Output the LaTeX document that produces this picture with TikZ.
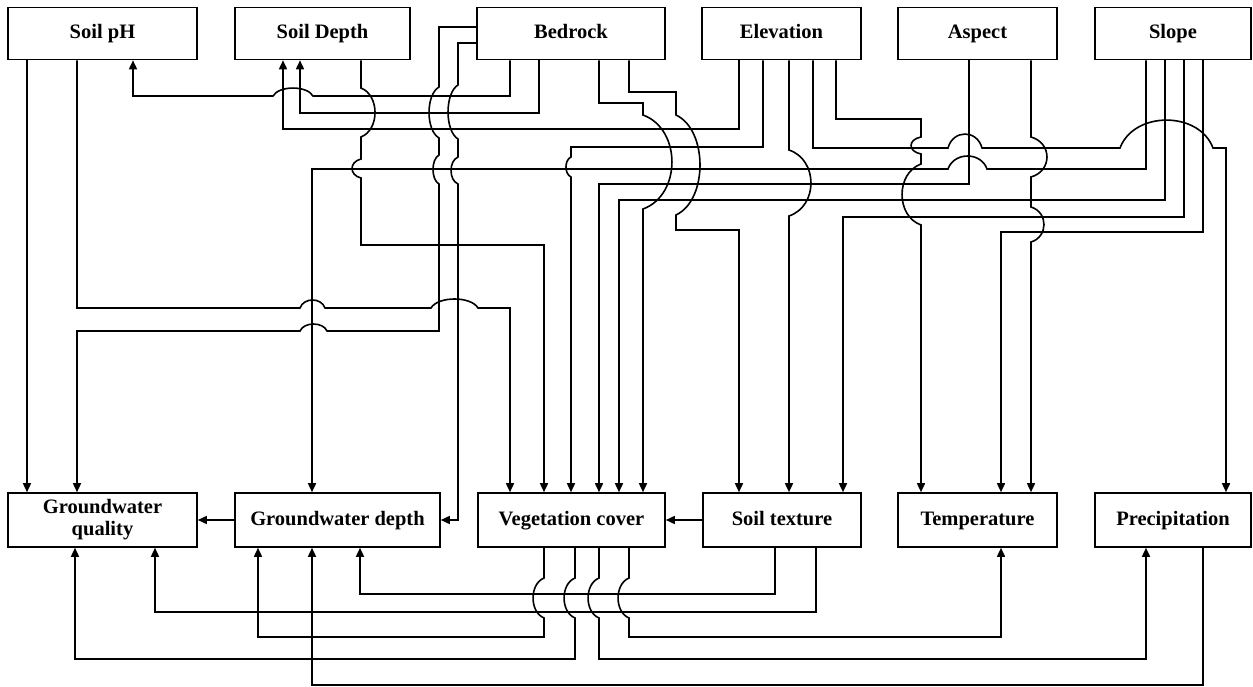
\documentclass[tikz,border=0pt]{standalone}
\usepackage{fontspec}
\setmainfont{Liberation Serif}
\usetikzlibrary{arrows.meta}
\begin{document}
\begin{tikzpicture}[x=1pt,y=-1pt, line width=1.6pt,
  box/.style={draw, inner sep=0pt, font=\bfseries\fontsize{20.5}{23}\selectfont, align=center},
  one/.style={text height=13.5pt, text depth=3pt},
  tbox/.style={box, one, minimum height=52pt},
  bbox/.style={box, minimum height=54pt},
  arr/.style={-{Triangle[length=9pt,width=8pt]}}]
\useasboundingbox (0,0) rectangle (1253,687);
% top row
\node[tbox, minimum width=189pt] (sph) at (102.5,33.5) {Soil pH};
\node[tbox, minimum width=175pt] (sdp) at (322.5,33.5) {Soil Depth};
\node[tbox, minimum width=188pt] (bed) at (571,33.5) {Bedrock};
\node[tbox, minimum width=159pt] (ele) at (781.5,33.5) {Elevation};
\node[tbox, minimum width=159pt] (asp) at (977.5,33.5) {Aspect};
\node[tbox, minimum width=156pt] (slo) at (1173,33.5) {Slope};
% bottom row
\node[bbox, minimum width=189pt] (gwq) at (102.5,520) {Groundwater\\[-1pt]quality};
\node[bbox, one, minimum width=205pt] (gwd) at (337.5,520) {Groundwater depth};
\node[bbox, one, minimum width=187pt] (veg) at (571.5,520) {Vegetation cover};
\node[bbox, one, minimum width=158pt] (stx) at (782,520) {Soil texture};
\node[bbox, one, minimum width=159pt] (tmp) at (977.5,520) {Temperature};
\node[bbox, one, minimum width=156pt] (pre) at (1173,520) {Precipitation};

% Soil pH
\draw[arr] (sph.south -| 27,0) -- (gwq.north -| 27,0);
\draw[arr] (sph.south -| 77,0) -- (77,308) -- (300,308)
  .. controls (303.8,297.3) and (321.2,297.3) .. (325,308) -- (431,308)
  .. controls (438,296) and (471,296) .. (478,308) -- (510,308) -- (veg.north -| 510,0);
% Soil Depth
\draw[arr] (sdp.south -| 361,0) -- (361,88)
  .. controls (379.7,95.4) and (379.7,129.6) .. (361,137) -- (361,159)
  .. controls (349,161.9) and (349,175.1) .. (361,178) -- (361,245) -- (544,245) -- (veg.north -| 544,0);
% Bedrock
\draw[arr] (bed.west |- 0,27) -- (439,27) -- (439,87)
  .. controls (425.7,94.7) and (425.7,130.3) .. (439,138) -- (439,155)
  .. controls (431,159.4) and (431,179.6) .. (439,184) -- (439,331) -- (327,331)
  .. controls (323,321.7) and (304,321.7) .. (300,331) -- (77,331) -- (gwq.north -| 77,0);
\draw[arr] (bed.west |- 0,43) -- (458,43) -- (458,85)
  .. controls (444.7,93.1) and (444.7,130.9) .. (458,139) -- (458,157)
  .. controls (448.7,161) and (448.7,180) .. (458,184) -- (458,520) -- (gwd.east);
\draw[arr] (bed.south -| 510,0) -- (510,96) -- (313,96)
  .. controls (307,85.4) and (279,85.4) .. (273,96) -- (133,96) -- (sph.south -| 133,0);
\draw[arr] (bed.south -| 539,0) -- (539,113) -- (300,113) -- (sdp.south -| 300,0);
\draw[arr] (bed.south -| 599,0) -- (599,103) -- (643,103) -- (643,115)
  .. controls (681.6,129.1) and (681.6,194.9) .. (643,209) -- (veg.north -| 643,0);
\draw[arr] (bed.south -| 629,0) -- (629,92) -- (676,92) -- (676,115)
  .. controls (708,130) and (708,200) .. (676,215) -- (676,230) -- (739,230) -- (stx.north -| 739,0);
% Elevation
\draw[arr] (ele.south -| 739,0) -- (739,129) -- (283,129) -- (sdp.south -| 283,0);
\draw[arr] (ele.south -| 763,0) -- (763,147) -- (571,147) -- (571,157)
  .. controls (564.3,160) and (564.3,174) .. (571,177) -- (veg.north -| 571,0);
\draw[arr] (ele.south -| 789,0) -- (789,150)
  .. controls (818.3,159.9) and (818.3,206.1) .. (789,216) -- (stx.north -| 789,0);
\draw[arr] (ele.south -| 813,0) -- (813,148) -- (948,148)
  .. controls (953,129.4) and (977,129.4) .. (982,148) -- (1120,148)
  .. controls (1134,110.8) and (1199,110.8) .. (1213,148) -- (1226,148) -- (pre.north -| 1226,0);
\draw[arr] (ele.south -| 836,0) -- (836,119) -- (921,119) -- (921,137)
  .. controls (907.7,139.6) and (907.7,151.4) .. (921,154) -- (921,164)
  .. controls (895.7,173.2) and (895.7,215.9) .. (921,225) -- (tmp.north -| 921,0);
% Aspect
\draw[arr] (asp.south -| 969,0) -- (969,184) -- (599,184) -- (veg.north -| 599,0);
\draw[arr] (asp.south -| 1031,0) -- (1031,137)
  .. controls (1052.3,143) and (1052.3,171) .. (1031,177) -- (1031,207)
  .. controls (1048.3,212.3) and (1048.3,236.8) .. (1031,242) -- (tmp.north -| 1031,0);
% Slope
\draw[arr] (slo.south -| 1146,0) -- (1146,169) -- (987,169)
  .. controls (981,151.7) and (954,151.7) .. (948,169) -- (312,169) -- (gwd.north -| 312,0);
\draw[arr] (slo.south -| 1165,0) -- (1165,200) -- (619,200) -- (veg.north -| 619,0);
\draw[arr] (slo.south -| 1184,0) -- (1184,217) -- (843,217) -- (stx.north -| 843,0);
\draw[arr] (slo.south -| 1203,0) -- (1203,232) -- (1001,232) -- (tmp.north -| 1001,0);

% between boxes
\draw[arr] (gwd.west) -- (gwq.east);
\draw[arr] (stx.west) -- (veg.east);

% bottom connectors
\draw[arr] (stx.south -| 775,0) -- (775,594) -- (360,594) -- (gwd.south -| 360,0);
\draw[arr] (stx.south -| 816,0) -- (816,612) -- (155,612) -- (gwq.south -| 155,0);
\draw[arr] (veg.south -| 544,0) -- (544,578)
  .. controls (529.4,584) and (529.4,612) .. (544,618) -- (544,637) -- (258,637) -- (gwd.south -| 258,0);
\draw[arr] (veg.south -| 575,0) -- (575,578)
  .. controls (560.4,584) and (560.4,612) .. (575,618) -- (575,659) -- (75,659) -- (gwq.south -| 75,0);
\draw[arr] (veg.south -| 599,0) -- (599,578)
  .. controls (584.4,584) and (584.4,612) .. (599,618) -- (599,659) -- (1146,659) -- (pre.south -| 1146,0);
\draw[arr] (veg.south -| 629,0) -- (629,578)
  .. controls (614.4,584) and (614.4,612) .. (629,618) -- (629,637) -- (1001,637) -- (tmp.south -| 1001,0);
\draw[arr] (pre.south -| 1203,0) -- (1203,685) -- (312,685) -- (gwd.south -| 312,0);
\end{tikzpicture}
\end{document}
